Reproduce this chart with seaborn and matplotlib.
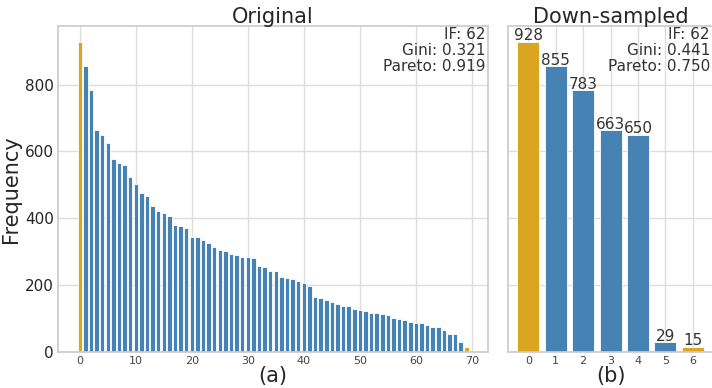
import numpy as np
import pandas as pd
import matplotlib
matplotlib.use('Agg')
import matplotlib.pyplot as plt
import seaborn as sns

sns.set_theme(style='whitegrid')
plt.rcParams['font.family'] = ['DejaVu Sans']

# --- data ---
orig_freq = [928, 855, 783, 663, 650, 626, 578, 566, 559, 523,
             504, 475, 468, 436, 421, 415, 406, 379, 377, 371,
             343, 343, 335, 325, 314, 306, 301, 294, 291, 285,
             285, 281, 258, 254, 243, 241, 225, 222, 219, 213,
             205, 198, 166, 163, 155, 149, 143, 138, 138, 130,
             126, 123, 117, 117, 115, 112, 102, 100, 96, 91,
             86, 86, 82, 76, 74, 65, 54, 54, 29, 15]
down_freq = [928, 855, 783, 663, 650, 29, 15]
orig_stats = 'IF: 62\nGini: 0.321\nPareto: 0.919'
down_stats = 'IF: 62\nGini: 0.441\nPareto: 0.750'

blue = '#4682B4'
gold = '#DAA520'


def bar_colors(n):
    # first and last class highlighted
    return [gold if i in (0, n - 1) else blue for i in range(n)]


fig = plt.figure(figsize=(7.12, 3.88), dpi=100)
ax1 = fig.add_axes([0.0815, 0.0928, 0.604, 0.840])
ax2 = fig.add_axes([0.7135, 0.0928, 0.288, 0.840], sharey=ax1)

# ------ Original ------
df1 = pd.DataFrame({'cls': np.arange(len(orig_freq)), 'freq': orig_freq})
sns.barplot(data=df1, x='cls', y='freq', hue='cls', palette=bar_colors(len(orig_freq)),
            legend=False, native_scale=True, saturation=1, width=0.8,
            edgecolor='white', linewidth=0.6, ax=ax1)
ax1.set_xticks(range(0, 71, 10))
ax1.set_xlim(-3.89, 72.89)
ax1.set_title('Original', fontsize=15, pad=2)
ax1.set_xlabel('(a)', fontsize=15, labelpad=0)
ax1.set_ylabel('Frequency', fontsize=15, labelpad=3)
ax1.tick_params(axis='x', labelsize=8, pad=3, length=0, labelcolor='#444444')
ax1.tick_params(axis='y', labelsize=11, pad=3, length=0)
ax1.text(0.995, 0.997, orig_stats, transform=ax1.transAxes, ha='right', va='top',
         fontsize=11, color='#333333', linespacing=1.1)

# ------ Down-sampled ------
df2 = pd.DataFrame({'cls': np.arange(len(down_freq)), 'freq': down_freq})
sns.barplot(data=df2, x='cls', y='freq', hue='cls', palette=bar_colors(len(down_freq)),
            legend=False, native_scale=True, saturation=1, width=0.8,
            edgecolor='white', linewidth=0.6, ax=ax2)
for c in ax2.containers:
    ax2.bar_label(c, fontsize=11, padding=-1, color='#333333')
ax2.set_xticks(range(len(down_freq)))
ax2.set_xlim(-0.74, 6.74)
ax2.set_title('Down-sampled', fontsize=15, pad=2)
ax2.set_xlabel('(b)', fontsize=15, labelpad=0)
ax2.set_ylabel('')
ax2.tick_params(axis='x', labelsize=8, pad=3, length=0, labelcolor='#444444')
ax2.tick_params(axis='y', labelleft=False, length=0)
ax2.text(0.985, 0.997, down_stats, transform=ax2.transAxes, ha='right', va='top',
         fontsize=11, color='#333333', linespacing=1.1)

ax1.set_ylim(0, 975)
ax1.set_yticks(range(0, 801, 200))
for ax in (ax1, ax2):
    ax.grid(True, color='#dddddd')
    ax.set_axisbelow(True)

plt.savefig('out.png', dpi=100)
